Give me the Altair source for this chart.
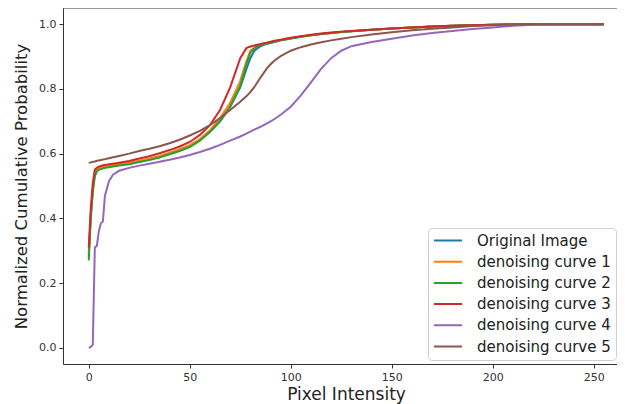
import altair as alt
import pandas as pd

x_vals = [0, 1, 2, 3, 4, 5, 6, 7, 8, 10, 12, 15, 20, 25, 30, 35, 40, 45, 50, 55,
          60, 65, 70, 75, 78, 80, 82, 85, 88, 90, 92, 95, 100, 105, 110, 115, 120, 125, 130, 140, 150,
          160, 170, 180, 190, 200, 210, 220, 230, 240, 250, 255]

original = [0.29, 0.41, 0.49, 0.535, 0.548, 0.553, 0.555, 0.557, 0.558, 0.560, 0.562, 0.565, 0.570, 0.576, 0.583, 0.590, 0.600, 0.610, 0.622, 0.642,
            0.668, 0.700, 0.745, 0.805, 0.860, 0.895, 0.918, 0.932, 0.939, 0.942, 0.945, 0.950, 0.956, 0.961, 0.966, 0.970, 0.973, 0.976, 0.978, 0.983, 0.987,
            0.990, 0.993, 0.995, 0.997, 0.998, 0.999, 1.0, 1.0, 1.0, 1.0, 1.0]
curve1 = [0.28, 0.41, 0.49, 0.54, 0.550, 0.555, 0.557, 0.559, 0.560, 0.562, 0.564, 0.567, 0.572, 0.578, 0.585, 0.593, 0.603, 0.614, 0.626, 0.645,
          0.672, 0.710, 0.757, 0.825, 0.885, 0.918, 0.928, 0.937, 0.941, 0.944, 0.947, 0.951, 0.957, 0.962, 0.966, 0.970, 0.973, 0.976, 0.978, 0.983, 0.987,
          0.990, 0.993, 0.995, 0.997, 0.998, 0.999, 1.0, 1.0, 1.0, 1.0, 1.0]
curve2 = [0.27, 0.40, 0.48, 0.53, 0.545, 0.550, 0.552, 0.554, 0.556, 0.558, 0.560, 0.563, 0.567, 0.574, 0.580, 0.588, 0.598, 0.608, 0.620, 0.640,
          0.667, 0.700, 0.745, 0.810, 0.875, 0.912, 0.925, 0.935, 0.940, 0.943, 0.946, 0.950, 0.956, 0.961, 0.966, 0.970, 0.973, 0.976, 0.978, 0.983, 0.987,
          0.990, 0.993, 0.995, 0.997, 0.998, 0.999, 1.0, 1.0, 1.0, 1.0, 1.0]
curve3 = [0.31, 0.43, 0.51, 0.55, 0.556, 0.560, 0.562, 0.564, 0.565, 0.567, 0.569, 0.572, 0.577, 0.585, 0.592, 0.601, 0.611, 0.622, 0.636, 0.658,
          0.688, 0.735, 0.805, 0.895, 0.926, 0.931, 0.934, 0.939, 0.943, 0.946, 0.949, 0.952, 0.958, 0.963, 0.967, 0.971, 0.974, 0.977, 0.979, 0.983, 0.987,
          0.990, 0.993, 0.995, 0.997, 0.998, 0.999, 1.0, 1.0, 1.0, 1.0, 1.0]
curve4 = [0.0, 0.003, 0.01, 0.31, 0.315, 0.36, 0.385, 0.39, 0.47, 0.515, 0.535, 0.547, 0.556, 0.563, 0.569, 0.575, 0.581, 0.588, 0.596, 0.605,
          0.615, 0.627, 0.640, 0.653, 0.662, 0.668, 0.674, 0.683, 0.693, 0.700, 0.707, 0.720, 0.745, 0.780, 0.820, 0.862, 0.895, 0.918, 0.932, 0.945, 0.955,
          0.965, 0.973, 0.979, 0.985, 0.990, 0.995, 0.998, 1.0, 1.0, 1.0, 1.0]
curve5 = [0.572, 0.573, 0.575, 0.576, 0.578, 0.579, 0.580, 0.582, 0.583, 0.586, 0.589, 0.593, 0.600, 0.608, 0.615, 0.623, 0.632, 0.643, 0.656, 0.670,
          0.688, 0.710, 0.735, 0.760, 0.777, 0.790, 0.806, 0.835, 0.862, 0.876, 0.888, 0.901, 0.918, 0.929, 0.937, 0.944, 0.950, 0.955, 0.960, 0.968, 0.975,
          0.981, 0.986, 0.990, 0.994, 0.997, 0.999, 1.0, 1.0, 1.0, 1.0, 1.0]

series_names = ["Original Image", "denoising curve 1", "denoising curve 2",
                "denoising curve 3", "denoising curve 4", "denoising curve 5"]
series_values = [original, curve1, curve2, curve3, curve4, curve5]
colors = ["#1f77b4", "#ff7f0e", "#2ca02c", "#d62728", "#9467bd", "#8c564b"]

x_ticks = [0, 50, 100, 150, 200, 250]
y_ticks = [0.0, 0.2, 0.4, 0.6, 0.8, 1.0]

rows = []
for order, (name, vals) in enumerate(zip(series_names, series_values)):
    for xv, yv in zip(x_vals, vals):
        rows.append({"series": name, "x": xv, "y": yv, "order": order})
df = pd.DataFrame(rows)

font = "DejaVu Sans"
W, H = 554, 356

lines = alt.Chart(df).mark_line(strokeWidth=2, clip=True).encode(
    x=alt.X("x:Q", scale=alt.Scale(domain=[-12.75, 261.5], nice=False, zero=False),
            axis=alt.Axis(values=x_ticks, title="Pixel Intensity", grid=False,
                          tickSize=4, labelPadding=3, titlePadding=4, titleX=283,
                          labelFontSize=11, titleFontSize=17, titleFontWeight="normal",
                          labelColor="#333", titleColor="#222", labelFont=font, titleFont=font,
                          domainColor="#333", tickColor="#333", labelFlush=False)),
    y=alt.Y("y:Q", scale=alt.Scale(domain=[-0.05, 1.05], nice=False, zero=False),
            axis=alt.Axis(values=y_ticks, format=".1f", title="Normalized Cumulative Probability",
                          grid=False, tickSize=4, labelPadding=3, titlePadding=9,
                          labelFontSize=11, titleFontSize=16.5, titleFontWeight="normal",
                          labelColor="#333", titleColor="#222", labelFont=font, titleFont=font,
                          domainColor="#333", tickColor="#333", labelFlush=False)),
    color=alt.Color("series:N", sort=series_names,
                    scale=alt.Scale(domain=series_names, range=colors),
                    legend=alt.Legend(title=None, orient="none", legendX=365, legendY=220,
                                      symbolType="stroke", symbolSize=784, symbolStrokeWidth=2,
                                      labelFontSize=15, labelFont=font, labelColor="#222",
                                      clipHeight=15, rowPadding=5.2, padding=5,
                                      labelOffset=14,
                                      fillColor="white", strokeColor="#d0d0d0",
                                      cornerRadius=4)),
    order=alt.Order("order:Q"),
    detail="series:N",
)

top_border = alt.Chart(pd.DataFrame({"a": [0]})).mark_rule(color="#333", strokeWidth=1).encode(
    y=alt.value(0), x=alt.value(0), x2=alt.value(W)
)

chart = alt.layer(lines, top_border).properties(
    width=W, height=H,
    autosize=alt.AutoSizeParams(type="none"),
    padding={"left": 55, "top": 0, "right": 0, "bottom": 42},
).configure_view(stroke=None)

chart.save("out.html", embed_options={"renderer": "svg", "actions": False})
